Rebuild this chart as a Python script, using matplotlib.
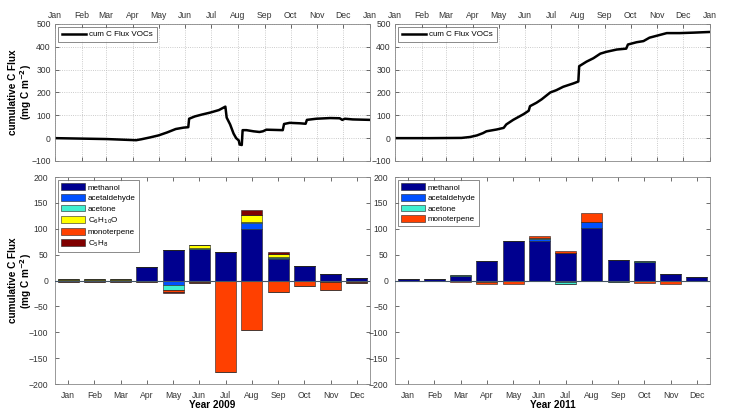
import matplotlib.pyplot as plt
import numpy as np

plt.rcParams['font.family'] = ['Liberation Sans', 'DejaVu Sans']
plt.rcParams['font.size'] = 6
plt.rcParams['axes.grid'] = False

months = ['Jan', 'Feb', 'Mar', 'Apr', 'May', 'Jun', 'Jul', 'Aug', 'Sep', 'Oct', 'Nov', 'Dec']
month_days = [0, 31, 59, 90, 120, 151, 181, 212, 243, 273, 304, 334, 365]
month_ticklabels = months + ['Jan']

# cumulative flux curves (day of year, mg C m-2)
day_09 = [0, 30, 60, 94, 100, 110, 120, 130, 140, 149, 154.5, 155.5, 162, 170, 180, 190, 196, 197.5,
          199, 203, 207, 210, 213, 214, 216.5, 217.5, 222, 230, 237, 241, 245, 255, 264, 265.5,
          272, 284, 290.5, 292, 303, 319, 330, 333, 336, 345, 355, 365]
cum_09 = [0, -2, -4, -9, -5, 3, 12, 25, 40, 46, 48, 85, 95, 103, 112, 123, 135, 138,
          90, 60, 20, 0, -10, -28, -30, 35, 35, 30, 27, 30, 37, 36, 35, 62,
          67, 65, 63, 80, 85, 88, 87, 80, 85, 82, 81, 80]
day_11 = [0, 40, 77, 87, 95, 102, 106, 118, 126, 129, 137, 149, 155, 156.5, 164, 170, 180, 187,
          195, 207, 212.5, 213.5, 222, 230, 238, 245, 257, 268, 270, 280, 288, 295, 307, 315,
          330, 346, 365]
cum_11 = [0, 0, 1, 5, 12, 22, 30, 38, 45, 60, 80, 105, 120, 140, 155, 170, 200, 210,
          225, 240, 248, 315, 335, 350, 370, 378, 388, 392, 410, 420, 425, 440, 452, 460,
          460, 462, 465]

# monthly sums 2009, positive and negative parts
meth_09_pos = [1, 1, 1, 26, 59, 60, 55, 99, 41, 29, 13, 4]
acald_09_pos = [0.3, 0.3, 0.3, 0, 0, 1, 0, 13, 3, 0, 0, 0]
acetone_09_pos = [0.3, 0.3, 0.3, 0, 0, 1.5, 0, 1, 1.5, 0, 0, 0]
c6_09_pos = [1, 1, 1, 0, 0, 6, 0, 14, 5, 0, 0, 0]
mono_09_pos = [0, 0, 0, 0, 0, 0, 0, 0, 0, 0, 0, 0]
c5_09_pos = [0, 0, 0, 0, 0, 0, 1, 10, 4, 0, 0, 0]

meth_09_neg = [0, 0, 0, 0, 0, 0, 0, 0, 0, 0, 0, 0]
acald_09_neg = [0, 0, 0, 0, -8, 0, 0, 0, 0, 0, -1, -1]
acetone_09_neg = [-1, -1, -1, 0, -10, -2, 0, 0, 0, 0, -1, -2]
c6_09_neg = [-0.5, -0.5, -0.5, 0, -1, 0, 0, 0, 0, 0, 0, 0]
mono_09_neg = [-1.5, -1.5, -1.5, -3, -3, -2, -176, -95, -22, -11, -16, -1]
c5_09_neg = [-0.5, -0.5, -0.5, 0, -2, 0, 0, 0, 0, 0, 0, 0]

# monthly sums 2011
meth_11_pos = [3, 2.5, 9.5, 38, 77, 77, 53, 102, 39, 35, 13, 7]
acald_11_pos = [0, 0, 0, 0, 0, 3, 0, 11, 0, 1, 0, 0]
acetone_11_pos = [0, 0, 1, 0, 0, 2, 0, 1, 0, 2.5, 0, 0]
mono_11_pos = [0, 0, 0, 0, 0, 4, 4, 17, 0, 0, 0, 0]

meth_11_neg = [-1, -1, 0, 0, 0, 0, 0, 0, 0, 0, 0, 0]
acald_11_neg = [0, 0, 0, 0, 0, 0, -2, 0, 0, 0, 0, 0]
acetone_11_neg = [0, 0, -1, -2, -1, 0, -5, 0, -2, 0, 0, -1]
mono_11_neg = [0, 0, -2, -4, -6, 0, 0, 0, 0, -5, -6, 0]

names_09 = ['methanol', 'acetaldehyde', 'acetone', 'C$_6$H$_{10}$O', 'monoterpene', 'C$_5$H$_8$']
names_11 = ['methanol', 'acetaldehyde', 'acetone', 'monoterpene']
colors_09 = ['#00008F', '#0050FF', '#40F0D0', '#FFFF00', '#FF4000', '#800000']
colors_11 = ['#00008F', '#0050FF', '#40F0D0', '#FF4000']

fig = plt.figure(figsize=(7.29, 4.19), dpi=100)
ax_tl = fig.add_axes([0.0754, 0.6158, 0.432, 0.327])
ax_tr = fig.add_axes([0.5418, 0.6158, 0.432, 0.327])
ax_bl = fig.add_axes([0.0754, 0.0835, 0.432, 0.494])
ax_br = fig.add_axes([0.5418, 0.0835, 0.432, 0.494])

ylab = 'cumulative C Flux\n(mg C m$^{\\mathbf{-2}}$)'

for ax, d, c in [(ax_tl, day_09, cum_09), (ax_tr, day_11, cum_11)]:
    ax.plot(d, c, color='k', lw=1.8, label='cum C Flux VOCs')
    ax.set_xlim(0, 365)
    ax.set_ylim(-100, 500)
    ax.set_xticks(month_days)
    ax.set_xticklabels(month_ticklabels)
    ax.set_yticks(np.arange(-100, 501, 100))
    ax.xaxis.tick_top()
    ax.tick_params(direction='in', top=True, bottom=True, left=True, right=True,
                   labelsize=6.2, length=3, width=0.5, pad=3, colors='#333333')
    ax.grid(True, ls=':', color='#BBBBBB', lw=0.6)
    for s in ax.spines.values():
        s.set_color('#888888')
        s.set_linewidth(0.6)
    leg = ax.legend(loc='upper left', fontsize=5.8, fancybox=False, handlelength=3.0,
                    borderpad=0.45, borderaxespad=0.4, handletextpad=0.4)
    leg.get_frame().set_edgecolor('#555555')
    leg.get_frame().set_linewidth(0.6)

x = np.arange(1, 13)


def stacked(ax, pos, neg, colors, names):
    bp = np.zeros(12)
    bn = np.zeros(12)
    for p, n, col, name in zip(pos, neg, colors, names):
        p = np.array(p, float)
        n = np.array(n, float)
        ax.bar(x, p, 0.8, bottom=bp, color=col, edgecolor='#222222', lw=0.4, label=name)
        ax.bar(x, n, 0.8, bottom=bn, color=col, edgecolor='#222222', lw=0.4)
        bp += p
        bn += n


stacked(ax_bl,
        [meth_09_pos, acald_09_pos, acetone_09_pos, c6_09_pos, mono_09_pos, c5_09_pos],
        [meth_09_neg, acald_09_neg, acetone_09_neg, c6_09_neg, mono_09_neg, c5_09_neg],
        colors_09, names_09)
stacked(ax_br,
        [meth_11_pos, acald_11_pos, acetone_11_pos, mono_11_pos],
        [meth_11_neg, acald_11_neg, acetone_11_neg, mono_11_neg],
        colors_11, names_11)

for ax, yr in [(ax_bl, 'Year 2009'), (ax_br, 'Year 2011')]:
    ax.axhline(0, color='#445566', lw=0.8, zorder=3)
    ax.set_xlim(0.5, 12.5)
    ax.set_ylim(-200, 200)
    ax.set_xticks(x)
    ax.set_xticklabels(months)
    ax.set_yticks(np.arange(-200, 201, 50))
    ax.tick_params(direction='in', top=True, right=True, labelsize=6.2, length=3,
                   width=0.5, pad=5, colors='#333333', grid_alpha=0)
    ax.xaxis.grid(False)
    ax.yaxis.grid(False)
    for s in ax.spines.values():
        s.set_color('#888888')
        s.set_linewidth(0.6)
    ax.set_xlabel(yr, fontsize=7.2, fontweight='bold', labelpad=0)
    leg = ax.legend(loc='upper left', fontsize=5.8, fancybox=False, handlelength=2.9,
                    handleheight=0.9, borderpad=0.4, borderaxespad=0.4, handletextpad=0.4,
                    labelspacing=0.3)
    leg.get_frame().set_edgecolor('#555555')
    leg.get_frame().set_linewidth(0.6)

for ax in (ax_tl, ax_bl):
    ax.set_ylabel(ylab, fontsize=7.2, fontweight='bold', linespacing=1.0)
    ax.yaxis.set_label_coords(-0.066, 0.5)

fig.savefig('out.png', dpi=100)
